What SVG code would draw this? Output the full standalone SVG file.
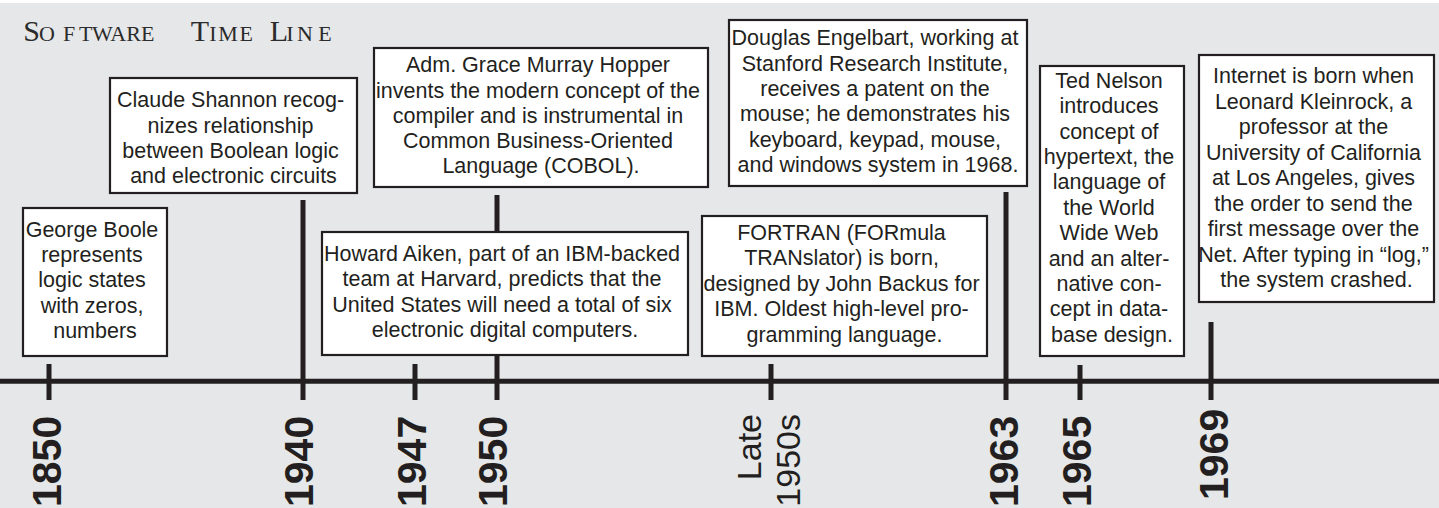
<svg xmlns="http://www.w3.org/2000/svg" width="1439" height="508" viewBox="0 0 1439 508">
  <style>
    .bg { fill: #e6e7e8; }
    .box { fill: #ffffff; stroke: #231f20; stroke-width: 2.2; }
    .t { font-family: "Liberation Sans", Arial, sans-serif; font-size: 21.5px; fill: #231f20; text-anchor: middle; }
    .bar { stroke: #231f20; stroke-width: 5; fill: none; }
    .yr { font-family: "Liberation Sans", Arial, sans-serif; font-size: 41px; font-weight: bold; fill: #231f20; }
    .yr2 { font-family: "Liberation Sans", Arial, sans-serif; font-size: 34px; fill: #231f20; text-anchor: end; }
    .ttl { font-family: "Liberation Serif", "Times New Roman", serif; fill: #2b2b2b; text-anchor: middle; }
    .cap { font-size: 30px; }
    .sc { font-size: 22px; }
  </style>

  <!-- page -->
  <rect x="0" y="0" width="1439" height="508" fill="#ffffff"/>
  <rect class="bg" x="0" y="3" width="1439" height="505"/>

  <!-- heading in small capitals -->
  <text class="ttl" y="40.7"><tspan class="cap" x="31.7">S</tspan><tspan class="sc" x="47 69 85.8 102.5 118.3 133.5 147.8">OFTWARE</tspan><tspan class="cap" x="199.8">T</tspan><tspan class="sc" x="213 228 246.3">IME</tspan><tspan class="cap" x="278.8">L</tspan><tspan class="sc" x="290 305 325">INE</tspan></text>

  <!-- axis, ticks and leader lines -->
  <g id="connectors" class="bar">
    <line x1="0" y1="381.3" x2="1439" y2="381.3"/>
    <line x1="49" y1="364" x2="49" y2="400"/>
    <line x1="303" y1="200" x2="303" y2="400"/>
    <line x1="415" y1="364" x2="415" y2="400"/>
    <line x1="497" y1="195" x2="497" y2="400"/>
    <line x1="771" y1="364" x2="771" y2="400"/>
    <line x1="1006" y1="192" x2="1006" y2="400"/>
    <line x1="1080" y1="365" x2="1080" y2="400"/>
    <line x1="1211" y1="322" x2="1211" y2="400"/>
  </g>

  <g id="boole">
    <rect class="box" x="23" y="208" width="144" height="148"/>
    <text class="t">
      <tspan x="95" y="236.7">George Boole</tspan>
      <tspan x="95" y="262">represents</tspan>
      <tspan x="95" y="287.3">logic states</tspan>
      <tspan x="95" y="312.6">with zeros,</tspan>
      <tspan x="95" y="337.9">numbers</tspan>
    </text>
  </g>

  <g id="shannon">
    <rect class="box" x="110" y="78" width="247" height="115"/>
    <text class="t">
      <tspan x="233.5" y="107.3">Claude Shannon recog-</tspan>
      <tspan x="233.5" y="132.6">nizes relationship</tspan>
      <tspan x="233.5" y="157.9">between Boolean logic</tspan>
      <tspan x="233.5" y="183.2">and electronic circuits</tspan>
    </text>
  </g>

  <g id="hopper">
    <rect class="box" x="374" y="48" width="334" height="139"/>
    <text class="t">
      <tspan x="541" y="72.3">Adm. Grace Murray Hopper</tspan>
      <tspan x="541" y="97.5">invents the modern concept of the</tspan>
      <tspan x="541" y="122.7">compiler and is instrumental in</tspan>
      <tspan x="541" y="147.9">Common Business-Oriented</tspan>
      <tspan x="541" y="173.1">Language (COBOL).</tspan>
    </text>
  </g>

  <g id="aiken">
    <rect class="box" x="322" y="232" width="366" height="123"/>
    <text class="t">
      <tspan x="505" y="261">Howard Aiken, part of an IBM-backed</tspan>
      <tspan x="505" y="286.3">team at Harvard, predicts that the</tspan>
      <tspan x="505" y="311.6">United States will need a total of six</tspan>
      <tspan x="505" y="336.9">electronic digital computers.</tspan>
    </text>
  </g>

  <g id="fortran">
    <rect class="box" x="702" y="216" width="285" height="140"/>
    <text class="t">
      <tspan x="844.5" y="240">FORTRAN (FORmula</tspan>
      <tspan x="844.5" y="265.4">TRANslator) is born,</tspan>
      <tspan x="844.5" y="290.8">designed by John Backus for</tspan>
      <tspan x="844.5" y="316.2">IBM. Oldest high-level pro-</tspan>
      <tspan x="844.5" y="341.6">gramming language.</tspan>
    </text>
  </g>

  <g id="engelbart">
    <rect class="box" x="729" y="20" width="298" height="166"/>
    <text class="t">
      <tspan x="878" y="45.3">Douglas Engelbart, working at</tspan>
      <tspan x="878" y="70.6">Stanford Research Institute,</tspan>
      <tspan x="878" y="95.9">receives a patent on the</tspan>
      <tspan x="878" y="121.2">mouse; he demonstrates his</tspan>
      <tspan x="878" y="146.5">keyboard, keypad, mouse,</tspan>
      <tspan x="878" y="171.8">and windows system in 1968.</tspan>
    </text>
  </g>

  <g id="nelson">
    <rect class="box" x="1040" y="66" width="144" height="290"/>
    <text class="t">
      <tspan x="1112" y="87.7">Ted Nelson</tspan>
      <tspan x="1112" y="113.1">introduces</tspan>
      <tspan x="1112" y="138.5">concept of</tspan>
      <tspan x="1112" y="163.9">hypertext, the</tspan>
      <tspan x="1112" y="189.3">language of</tspan>
      <tspan x="1112" y="214.7">the World</tspan>
      <tspan x="1112" y="240.1">Wide Web</tspan>
      <tspan x="1112" y="265.5">and an alter-</tspan>
      <tspan x="1112" y="290.9">native con-</tspan>
      <tspan x="1112" y="316.3">cept in data-</tspan>
      <tspan x="1112" y="341.7">base design.</tspan>
    </text>
  </g>

  <g id="internet">
    <rect class="box" x="1199" y="55" width="235" height="247"/>
    <text class="t">
      <tspan x="1316.5" y="83">Internet is born when</tspan>
      <tspan x="1316.5" y="108.5">Leonard Kleinrock, a</tspan>
      <tspan x="1316.5" y="134">professor at the</tspan>
      <tspan x="1316.5" y="159.5">University of California</tspan>
      <tspan x="1316.5" y="185">at Los Angeles, gives</tspan>
      <tspan x="1316.5" y="210.5">the order to send the</tspan>
      <tspan x="1316.5" y="236">first message over the</tspan>
      <tspan x="1316.5" y="261.5">Net. After typing in “log,”</tspan>
      <tspan x="1316.5" y="287">the system crashed.</tspan>
    </text>
  </g>

  <!-- dates, set vertically under the axis -->
  <g id="years">
    <text class="yr" transform="translate(60.7 507) rotate(-90)">1850</text>
    <text class="yr" transform="translate(313.2 507) rotate(-90)">1940</text>
    <text class="yr" transform="translate(425.7 507) rotate(-90)">1947</text>
    <text class="yr" transform="translate(507.1 507) rotate(-90)">1950</text>
    <text class="yr2" transform="translate(761.4 414) rotate(-90)">Late</text>
    <text class="yr2" transform="translate(799.6 414) rotate(-90)">1950s</text>
    <text class="yr" transform="translate(1017.5 507) rotate(-90)">1963</text>
    <text class="yr" transform="translate(1090.7 507) rotate(-90)">1965</text>
    <text class="yr" transform="translate(1228.2 500) rotate(-90)">1969</text>
  </g>
</svg>
